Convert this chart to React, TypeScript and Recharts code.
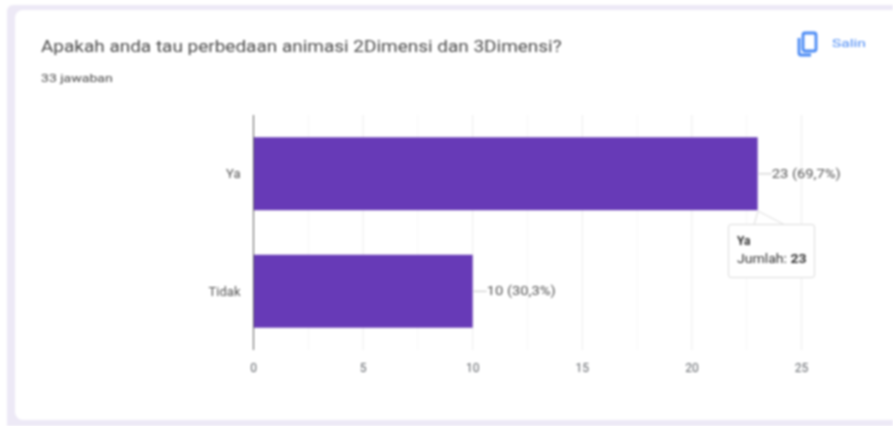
import React from "react";
import {
  BarChart,
  Bar,
  XAxis,
  YAxis,
  CartesianGrid,
  Tooltip,
  LabelList,
} from "recharts";

const categories = ["Ya", "Tidak"];
const counts = [23, 10];
const valueLabels = ["23 (69,7%)", "10 (30,3%)"];
const majorTicks = [0, 5, 10, 15, 20, 25];
const majorGrid = [5, 10, 15, 20, 25];
const minorGrid = [2.5, 7.5, 12.5, 17.5, 22.5];

const rows = categories.map((name, i) => ({
  name,
  jumlah: counts[i],
  label: valueLabels[i],
}));

const FONT = "Roboto, Arial, sans-serif";

const BarLabel = (props: any) => {
  const { x, y, width, height, index } = props;
  const endX = x + width;
  const midY = y + height / 2;
  return (
    <g>
      <line x1={endX + 1} x2={endX + 14} y1={midY} y2={midY} stroke="#c4c4c4" />
      <text
        x={endX + 14}
        y={midY + 4}
        fontSize={12}
        fill="#555"
        fontFamily={FONT}
        textLength={69}
        lengthAdjust="spacingAndGlyphs"
      >
        {valueLabels[index]}
      </text>
    </g>
  );
};

const ChartTooltip = ({ payload }: any) => {
  const row = payload && payload[0] ? payload[0].payload : rows[0];
  return (
    <div style={{ position: "relative", width: 87, height: 54, fontFamily: FONT }}>
      <svg
        width={60}
        height={20}
        style={{ position: "absolute", left: 20, top: -14, overflow: "visible" }}
      >
        <path d="M6 15 L10 1 L37 15" fill="#fff" stroke="#dcdcdc" />
      </svg>
      <div
        style={{
          position: "absolute",
          inset: 0,
          background: "#fff",
          border: "1px solid #dcdcdc",
          borderRadius: 3,
          boxSizing: "border-box",
          padding: "7px 8px",
          fontSize: 12,
          lineHeight: "18px",
          color: "#333",
          whiteSpace: "nowrap",
        }}
      >
        <div style={{ fontWeight: 700 }}>{row.name}</div>
        <div style={{ transform: "scaleX(1.17)", transformOrigin: "left center" }}>
          Jumlah: <b>{row.jumlah}</b>
        </div>
      </div>
    </div>
  );
};

const stretched = (left: number, top: number, scale: number): React.CSSProperties => ({
  position: "absolute",
  left,
  top,
  fontFamily: FONT,
  whiteSpace: "nowrap",
  transform: `scaleX(${scale})`,
  transformOrigin: "left center",
});

export default function App() {
  return (
    <div
      style={{
        position: "absolute",
        left: 0,
        top: 0,
        width: 893,
        height: 426,
        overflow: "hidden",
        background: "#fff",
        filter: "blur(1px)",
      }}
    >
      <div
        style={{
          position: "absolute",
          left: 7,
          top: 5,
          width: 900,
          height: 430,
          background: "#ede9f6",
          borderRadius: 6,
        }}
      />
      <div
        style={{
          position: "absolute",
          left: 15,
          top: 10,
          width: 890,
          height: 410,
          background: "#fff",
          borderRadius: 8,
        }}
      />
      <div style={{ ...stretched(41, 37, 1.185), fontSize: 16, color: "#4d4d4d" }}>
        Apakah anda tau perbedaan animasi 2Dimensi dan 3Dimensi?
      </div>
      <div style={{ ...stretched(41, 71, 1.22), fontSize: 11.5, color: "#444" }}>
        33 jawaban
      </div>
      <svg
        width={24}
        height={26}
        viewBox="0 0 24 26"
        style={{ position: "absolute", left: 796, top: 31 }}
      >
        <rect x={7} y={2} width={13} height={18} rx={2} fill="none" stroke="#4a8af4" strokeWidth={2.8} />
        <path d="M3 7 V22 a2 2 0 0 0 2 2 H15" fill="none" stroke="#4a8af4" strokeWidth={2.8} />
      </svg>
      <div style={{ ...stretched(832, 36, 1.35), fontSize: 11.5, color: "#4a8af4" }}>
        Salin
      </div>
      <div style={{ position: "absolute", left: 0, top: 0 }}>
        <BarChart
          width={893}
          height={426}
          data={rows}
          layout="vertical"
          barCategoryGap="19%"
          margin={{ top: 115, right: 91.5, bottom: 46, left: 193.5 }}
        >
          <CartesianGrid horizontal={false} verticalValues={minorGrid} stroke="#f7f7f7" />
          <CartesianGrid horizontal={false} verticalValues={majorGrid} stroke="#ececec" />
          <XAxis
            type="number"
            domain={[0, 25]}
            ticks={majorTicks}
            axisLine={false}
            tickLine={false}
            height={30}
            tickMargin={7}
            tick={{ fill: "#5f6368", fontSize: 12, fontFamily: FONT }}
          />
          <YAxis
            type="category"
            dataKey="name"
            width={60}
            axisLine={{ stroke: "#5f5f5f" }}
            tickLine={false}
            tickMargin={7}
            tick={{ fill: "#555", fontSize: 13, fontFamily: FONT }}
          />
          <Tooltip
            defaultIndex={0}
            cursor={false}
            isAnimationActive={false}
            position={{ x: 728, y: 224 }}
            allowEscapeViewBox={{ x: true, y: true }}
            wrapperStyle={{ outline: "none" }}
            content={<ChartTooltip />}
          />
          <Bar dataKey="jumlah" fill="#673ab7" isAnimationActive={false}>
            <LabelList dataKey="label" content={<BarLabel />} />
          </Bar>
        </BarChart>
      </div>
    </div>
  );
}
